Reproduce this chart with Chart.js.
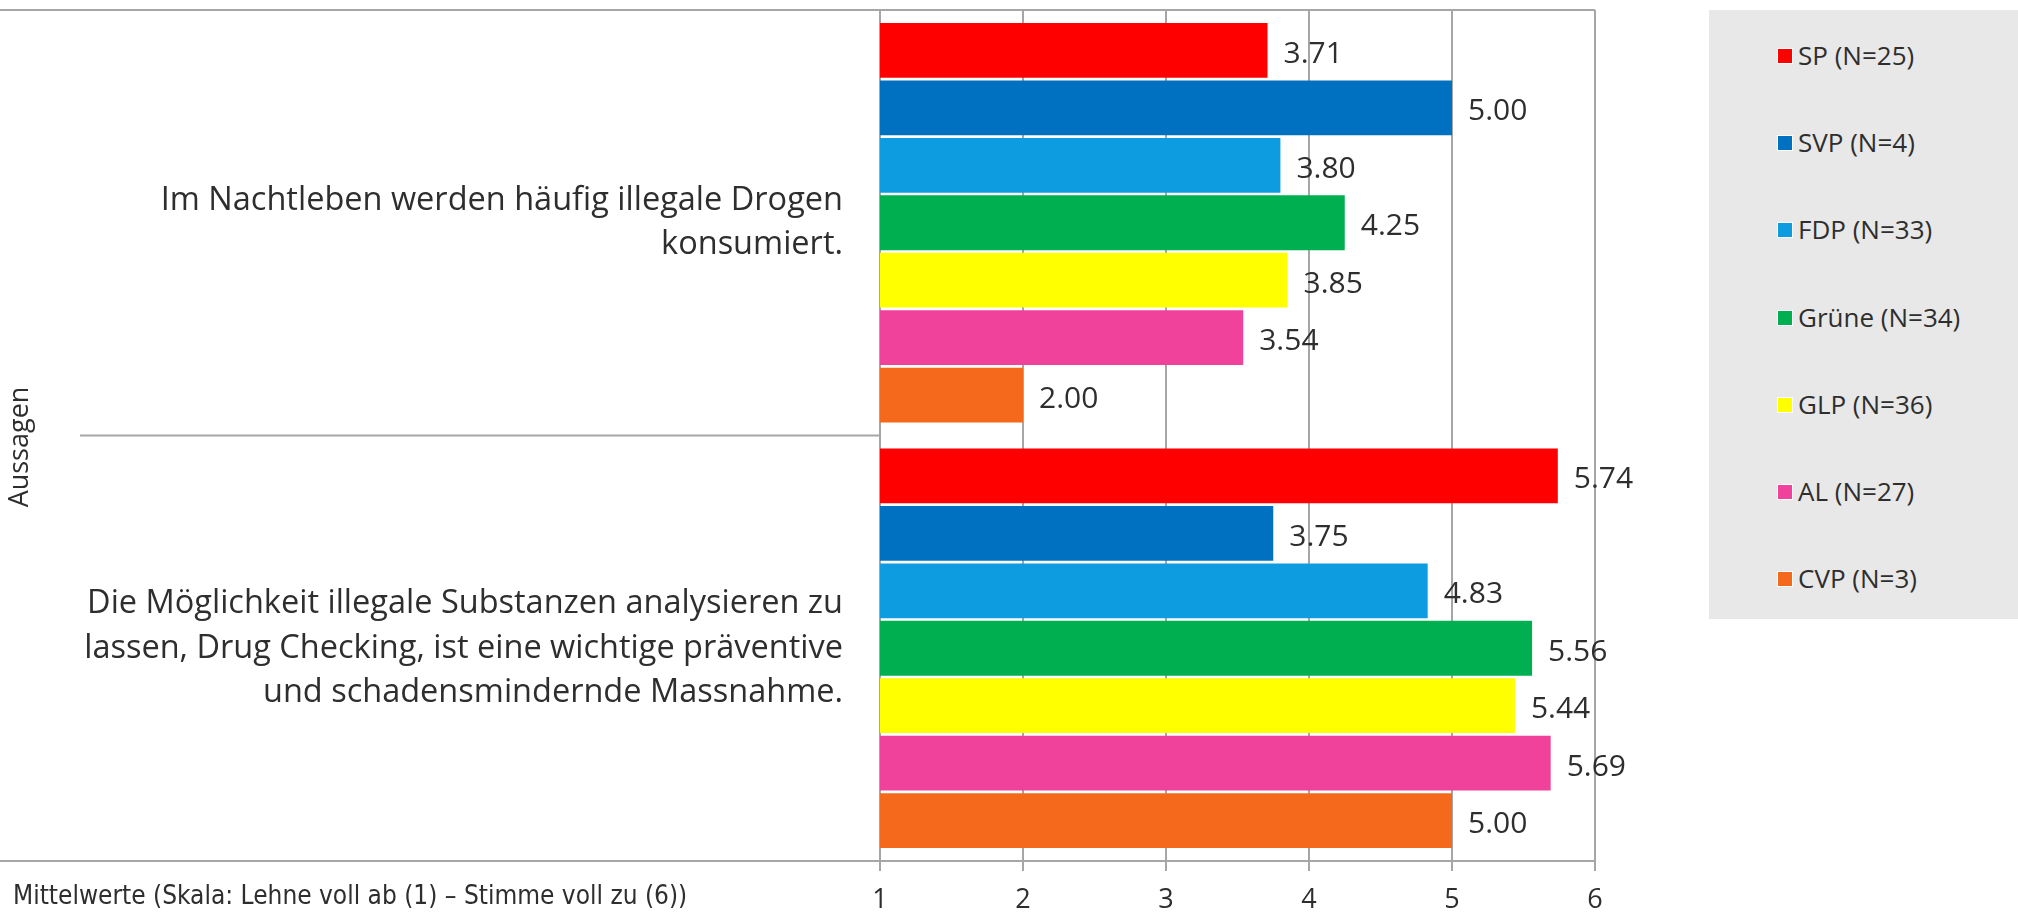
<!DOCTYPE html>
<html>
<head>
<meta charset="utf-8">
<script src="https://cdn.jsdelivr.net/npm/chart.js@4/dist/chart.umd.min.js"></script>
<style>
  html, body { margin: 0; padding: 0; background: #fff; }
  #wrap { position: relative; width: 2018px; height: 912px; }
  #legend {
    position: absolute; left: 1709px; top: 10px; width: 309px; height: 609px;
    background: #e8e8e8; font-family: "Open Sans", sans-serif; font-size: 26px; color: #2e2e2e;
  }
  .item { position: absolute; left: 68px; height: 30px; line-height: 30px; white-space: nowrap; }
  .item span.box {
    display: inline-block; width: 14px; height: 14px; border: 1px solid #fff;
    vertical-align: middle; margin-right: 5px; position: relative; top: -2px;
  }
</style>
</head>
<body>
<div id="wrap">
  <canvas id="chart"></canvas>
  <div id="legend"></div>
</div>
<script>
// Categories (statements)
const statements = [
    ['Im Nachtleben werden häufig illegale Drogen', 'konsumiert.'],
    ['Die Möglichkeit illegale Substanzen analysieren zu', 'lassen, Drug Checking, ist eine wichtige präventive', 'und schadensmindernde Massnahme.']
];

// Parties and their colours
const parties = ['SP (N=25)', 'SVP (N=4)', 'FDP (N=33)', 'Grüne (N=34)', 'GLP (N=36)', 'AL (N=27)', 'CVP (N=3)'];
const partyColors = ['#ff0000', '#0070c0', '#0e9ce0', '#00b050', '#ffff00', '#f0429a', '#f5691c'];

// Mean values per party: [statement 1, statement 2]
const valuesSP = [3.71, 5.74];
const valuesSVP = [5.00, 3.75];
const valuesFDP = [3.80, 4.83];
const valuesGruene = [4.25, 5.56];
const valuesGLP = [3.85, 5.44];
const valuesAL = [3.54, 5.69];
const valuesCVP = [2.00, 5.00];
const partyValues = [valuesSP, valuesSVP, valuesFDP, valuesGruene, valuesGLP, valuesAL, valuesCVP];

// Axis
const axisMin = 1;
const axisMax = 6;
const axisTitleY = 'Aussagen';
const axisNoteX = 'Mittelwerte (Skala: Lehne voll ab (1) – Stimme voll zu (6))';

const textColor = '#2e2e2e';
const lineColor = '#a6a6a6';

// Value labels at the end of each bar
const valueLabels = {
    id: 'valueLabels',
    afterDatasetsDraw(chart) {
        const ctx = chart.ctx;
        ctx.save();
        ctx.font = '30px "Open Sans", sans-serif';
        ctx.fillStyle = textColor;
        ctx.textAlign = 'left';
        ctx.textBaseline = 'middle';
        chart.data.datasets.forEach((ds, i) => {
            chart.getDatasetMeta(i).data.forEach((bar, j) => {
                ctx.fillText(ds.data[j].toFixed(2), bar.x + 16, bar.y + 4);
            });
        });
        ctx.restore();
    }
};

// Frame lines like the category table of the original, plus axis texts
const frameLines = {
    id: 'frameLines',
    beforeDatasetsDraw(chart) {
        const ctx = chart.ctx;
        const area = chart.chartArea;
        const y = chart.scales.y;
        ctx.save();
        ctx.strokeStyle = lineColor;
        ctx.lineWidth = 2;
        ctx.beginPath();
        ctx.moveTo(0, area.top);
        ctx.lineTo(area.right, area.top);
        ctx.moveTo(0, area.bottom);
        ctx.lineTo(area.right, area.bottom);
        for (let i = 0; i < statements.length - 1; i++) {
            const sep = (y.getPixelForValue(i) + y.getPixelForValue(i + 1)) / 2;
            ctx.moveTo(80, sep);
            ctx.lineTo(area.left, sep);
        }
        ctx.stroke();

        ctx.fillStyle = textColor;
        ctx.textBaseline = 'middle';
        ctx.font = '26px "Liberation Sans Narrow", "DejaVu Sans Condensed", sans-serif';
        ctx.textAlign = 'left';
        ctx.fillText(axisNoteX, 13, 897);

        ctx.font = '27px "Open Sans", sans-serif';
        ctx.textAlign = 'center';
        ctx.translate(20, 447);
        ctx.rotate(-Math.PI / 2);
        ctx.fillText(axisTitleY, 0, 0);
        ctx.restore();
    }
};

const ctx = document.getElementById('chart').getContext('2d');
const chart = new Chart(ctx, {
    type: 'bar',
    data: {
        labels: statements,
        datasets: parties.map((name, i) => ({
            label: name,
            data: partyValues[i],
            backgroundColor: partyColors[i],
            borderWidth: 0,
            categoryPercentage: 0.945,
            barPercentage: 0.955
        }))
    },
    options: {
        indexAxis: 'y',
        responsive: true,
        maintainAspectRatio: false,
        devicePixelRatio: 1,
        animation: false,
        layout: {
            padding: { top: 10, right: 423, bottom: 0, left: 0 }
        },
        plugins: {
            legend: { display: false },
            tooltip: { enabled: false }
        },
        scales: {
            x: {
                min: axisMin,
                max: axisMax,
                ticks: {
                    stepSize: 1,
                    color: textColor,
                    padding: 13,
                    font: { family: '"Open Sans", sans-serif', size: 27 }
                },
                grid: {
                    color: lineColor,
                    lineWidth: 2,
                    tickLength: 10
                },
                border: { display: false },
                afterFit(scale) {
                    scale.height = 51;
                    scale.paddingLeft = 0;
                    scale.paddingRight = 0;
                }
            },
            y: {
                ticks: {
                    color: textColor,
                    padding: 37,
                    font: { family: '"Open Sans", sans-serif', size: 32.5, lineHeight: 1.38 }
                },
                grid: { display: false, drawTicks: false },
                border: { display: false },
                afterFit(scale) {
                    scale.width = 880;
                    scale.paddingTop = 0;
                    scale.paddingBottom = 0;
                }
            }
        }
    },
    plugins: [frameLines, valueLabels]
});

// Legend built from the chart's datasets
const legend = document.getElementById('legend');
chart.data.datasets.forEach((ds, i) => {
    const item = document.createElement('div');
    item.className = 'item';
    item.style.top = (45 + i * 87.2 - 15) + 'px';
    item.innerHTML = '<span class="box" style="background:' + ds.backgroundColor + '"></span>' + ds.label;
    legend.appendChild(item);
});
</script>
</body>
</html>
